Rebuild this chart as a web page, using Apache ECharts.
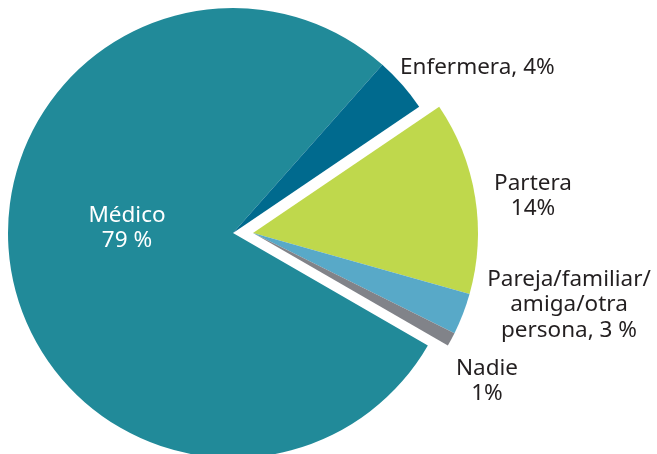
<!DOCTYPE html>
<html>
<head>
<meta charset="utf-8">
<script src="https://cdn.jsdelivr.net/npm/echarts@6/dist/echarts.min.js"></script>
<style>
  html, body { margin: 0; padding: 0; background: #fff; }
  #chart { width: 657px; height: 454px; }
</style>
</head>
<body>
<div id="chart"></div>
<script>
// datos del gráfico
var categories = ['Médico', 'Enfermera', 'Partera', 'Pareja/familiar/amiga/otra persona', 'Nadie'];
var values = [79, 4, 14, 3, 1];
var labelTexts = ['Médico\n79 %', 'Enfermera, 4%', 'Partera\n14%', 'Pareja/familiar/\namiga/otra\npersona, 3 %', 'Nadie\n1%'];
var colors = ['#218a99', '#006a8e', '#bfd84c', '#58a9c8', '#818389'];
// porciones separadas del resto (grupo desplazado)
var exploded = [false, false, true, true, true];

// posiciones de las etiquetas
var labelPos = [
  { x: 127, y: 228, align: 'center' },
  { x: 400, y: 68, align: 'left' },
  { x: 533, y: 196, align: 'center' },
  { x: 569, y: 305, align: 'center' },
  { x: 487, y: 381, align: 'center' }
];

var chart = echarts.init(document.getElementById('chart'));

function buildData(showExploded) {
  return categories.map(function (name, i) {
    var visible = exploded[i] === showExploded;
    return {
      name: name,
      value: values[i],
      itemStyle: { color: visible ? colors[i] : 'rgba(0,0,0,0)' },
      label: {
        show: visible,
        color: i === 0 ? '#ffffff' : '#231f20'
      }
    };
  });
}

function makeSeries(center, showExploded) {
  return {
    type: 'pie',
    radius: [0, 225],
    center: center,
    startAngle: 330,
    clockwise: true,
    animation: false,
    silent: true,
    avoidLabelOverlap: false,
    itemStyle: { borderWidth: 0 },
    label: {
      position: 'outside',
      fontFamily: 'Noto Sans',
      fontSize: 22.5,
      lineHeight: 25.5,
      formatter: function (p) { return labelTexts[p.dataIndex]; }
    },
    labelLine: { show: false },
    labelLayout: function (p) {
      var pos = labelPos[p.dataIndex];
      return { x: pos.x, y: pos.y, align: pos.align, verticalAlign: 'middle' };
    },
    data: buildData(showExploded)
  };
}

chart.setOption({
  backgroundColor: '#ffffff',
  series: [
    makeSeries([233, 233], false),
    makeSeries([253, 233], true)
  ]
});
</script>
</body>
</html>
